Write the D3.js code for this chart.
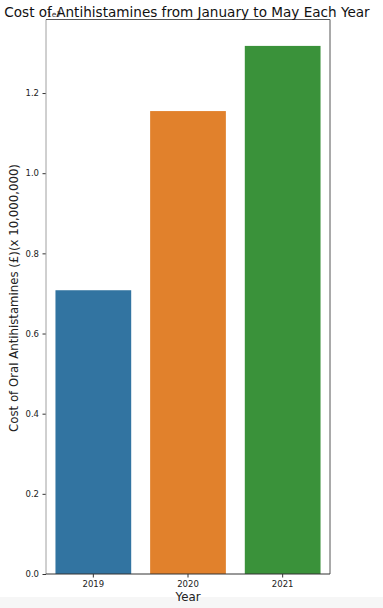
<!DOCTYPE html>
<html><head><meta charset="utf-8">
<script src="https://cdn.jsdelivr.net/npm/d3@7"></script>
<style>body{margin:0;background:#fff}svg{display:block}text{font-family:"DejaVu Sans",sans-serif}</style>
</head><body>
<svg id="c" width="383" height="608"></svg>
<script>
const years = ["2019", "2020", "2021"];
const costs = [7080000, 11550000, 13176000];
const colors = ["#3274a1", "#e1812c", "#3a923a"];
const yTicks = [0, 0.2e7, 0.4e7, 0.6e7, 0.8e7, 1.0e7, 1.2e7];

const svg = d3.select("#c");
const m = {l: 46, r: 330, t: 19.5, b: 574};
svg.append("rect").attr("x",0).attr("y",597).attr("width",383).attr("height",11).attr("fill","#f6f6f6");

const x = d3.scaleBand().domain(years).range([m.l, m.r]).paddingInner(0.2).paddingOuter(0.1);
const ymax = d3.max(costs) * 1.05;
const y = d3.scaleLinear().domain([0, ymax]).range([m.b, m.t]);

svg.selectAll("rect.bar").data(years).join("rect").attr("class","bar")
  .attr("x", d => x(d)).attr("width", x.bandwidth())
  .attr("y", (d,i) => y(costs[i])).attr("height", (d,i) => m.b - y(costs[i]))
  .attr("fill", (d,i) => colors[i]);

const ya = svg.append("g").attr("transform",`translate(${m.l},0)`)
  .call(d3.axisLeft(y).tickValues(yTicks).tickSize(3.5).tickPadding(3.5).tickFormat(d => (d/1e7).toFixed(1)));
ya.select(".domain").remove();
ya.selectAll("text").attr("font-size", 8.5).attr("fill","#222");
ya.selectAll("line").attr("stroke","#333");

const xa = svg.append("g").attr("transform",`translate(0,${m.b})`)
  .call(d3.axisBottom(x).tickSize(3.5).tickPadding(3.5));
xa.select(".domain").remove();
xa.selectAll("text").attr("font-size", 8.5).attr("fill","#222");
xa.selectAll("line").attr("stroke","#333");

// spines
svg.append("line").attr("x1",m.l).attr("x2",m.l).attr("y1",m.t).attr("y2",m.b).attr("stroke","#a0a0a0").attr("stroke-width",1);
svg.append("line").attr("x1",m.r).attr("x2",m.r).attr("y1",m.t).attr("y2",m.b).attr("stroke","#555").attr("stroke-width",1);
svg.append("line").attr("x1",m.l).attr("x2",m.r).attr("y1",m.t).attr("y2",m.t).attr("stroke","#555").attr("stroke-width",1);
svg.append("line").attr("x1",m.l).attr("x2",m.r).attr("y1",m.b).attr("y2",m.b).attr("stroke","#333").attr("stroke-width",1);

function fit(sel, target){
  const w = sel.node().getComputedTextLength();
  const fs = +sel.attr("font-size");
  sel.attr("font-size", fs * target / w);
}

svg.append("text").attr("x",47).attr("y",17).attr("font-size",7.5).attr("fill","#333").text("1e7");
const title = svg.append("text").attr("x",187).attr("y",17).attr("text-anchor","middle").attr("font-size",14).attr("fill","#111")
  .text("Cost of Antihistamines from January to May Each Year");
fit(title, 366);
const xl = svg.append("text").attr("x",188).attr("y",601).attr("text-anchor","middle").attr("font-size",13).attr("fill","#222").text("Year");
fit(xl, 25);
const yl = svg.append("text").attr("transform","translate(18,298) rotate(-90)").attr("text-anchor","middle").attr("font-size",13).attr("fill","#222")
  .text("Cost of Oral Antihistamines (£)(x 10,000,000)");
fit(yl, 268);
</script>
</body></html>
